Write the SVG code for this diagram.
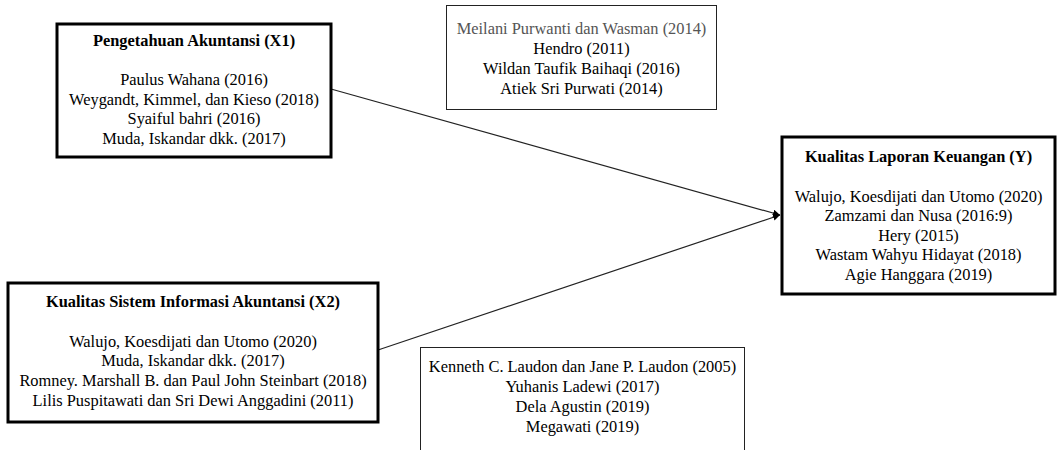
<svg xmlns="http://www.w3.org/2000/svg" width="1058" height="450" viewBox="0 0 1058 450">
<style>
text{font-family:"Liberation Serif","Times New Roman",serif;font-size:16.4px;fill:#000;text-anchor:middle}
.b{font-weight:bold}
.g{fill:#555}
.thick{fill:#fff;stroke:#000;stroke-width:3}
.thin{fill:#fff;stroke:#222;stroke-width:1}
.conn{stroke:#222;stroke-width:1.2;fill:none}
</style>
<defs>
<marker id="arr" viewBox="0 0 10 10" refX="10" refY="5" markerWidth="7" markerHeight="7" markerUnits="userSpaceOnUse" orient="auto">
<path d="M0,0 L10,5 L0,10 z" fill="#000"/>
</marker>
</defs>
<g id="connectors">
<line class="conn" x1="331" y1="89" x2="780" y2="215" marker-end="url(#arr)"/>
<line class="conn" x1="378" y1="350" x2="780" y2="215" marker-end="url(#arr)"/>
</g>
<g id="x1">
<rect class="thick" x="57" y="24" width="274" height="133"/>
<text class="b" x="194" y="46">Pengetahuan Akuntansi (X1)</text>
<text x="194" y="85">Paulus Wahana (2016)</text>
<text x="194" y="104.5">Weygandt, Kimmel, dan Kieso (2018)</text>
<text x="194" y="124">Syaiful bahri (2016)</text>
<text x="194" y="144">Muda, Iskandar dkk. (2017)</text>
</g>
<g id="refs-top">
<rect class="thin" x="446.5" y="5.5" width="270" height="104"/>
<text class="g" x="581.5" y="33.5">Meilani Purwanti dan Wasman (2014)</text>
<text x="581.5" y="53.5">Hendro (2011)</text>
<text x="581.5" y="73.5">Wildan Taufik Baihaqi (2016)</text>
<text x="581.5" y="93.5">Atiek Sri Purwati (2014)</text>
</g>
<g id="y">
<rect class="thick" x="782" y="137" width="273" height="157"/>
<text class="b" x="918.5" y="162">Kualitas Laporan Keuangan (Y)</text>
<text x="918.5" y="201.5">Walujo, Koesdijati dan Utomo (2020)</text>
<text x="918.5" y="221">Zamzami dan Nusa (2016:9)</text>
<text x="918.5" y="240.5">Hery (2015)</text>
<text x="918.5" y="260">Wastam Wahyu Hidayat (2018)</text>
<text x="918.5" y="279.5">Agie Hanggara (2019)</text>
</g>
<g id="x2">
<rect class="thick" x="8" y="283" width="370" height="139"/>
<text class="b" x="193" y="307">Kualitas Sistem Informasi Akuntansi (X2)</text>
<text x="193" y="346.5">Walujo, Koesdijati dan Utomo (2020)</text>
<text x="193" y="366">Muda, Iskandar dkk. (2017)</text>
<text x="193" y="386">Romney. Marshall B. dan Paul John Steinbart (2018)</text>
<text x="193" y="405.5">Lilis Puspitawati dan Sri Dewi Anggadini (2011)</text>
</g>
<g id="refs-bottom">
<rect class="thin" x="420.5" y="347.5" width="324" height="120"/>
<text x="582.5" y="372">Kenneth C. Laudon dan Jane P. Laudon (2005)</text>
<text x="582.5" y="392">Yuhanis Ladewi (2017)</text>
<text x="582.5" y="412">Dela Agustin (2019)</text>
<text x="582.5" y="431.5">Megawati (2019)</text>
</g>
</svg>
